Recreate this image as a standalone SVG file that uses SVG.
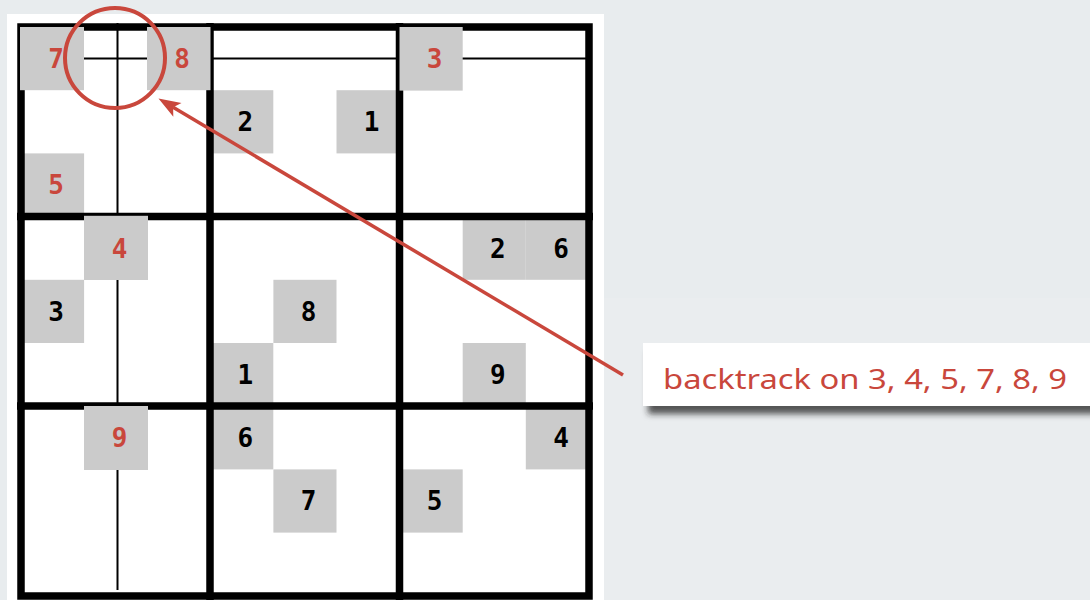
<svg xmlns="http://www.w3.org/2000/svg" width="1090" height="600" viewBox="0 0 1090 600">
<defs>
<style>
.cell{fill:#cbcbcb}
.dk{font-family:"DejaVu Sans Mono","Liberation Mono",monospace;font-weight:bold;font-size:26px;fill:#000;text-anchor:middle}
.rd{font-family:"DejaVu Sans Mono","Liberation Mono",monospace;font-weight:bold;font-size:26px;fill:#c9473c;text-anchor:middle}
.thick{stroke:#000;stroke-width:7.5;fill:none}
.thin{stroke:#000;stroke-width:2;fill:none}
.red{stroke:#c9473c;fill:none}
.lbl{font-family:"Noto Sans","Open Sans",sans-serif;font-size:27px;fill:#c9473c}
</style>
<marker id="ah" markerUnits="userSpaceOnUse" viewBox="-24 -10 26 20" markerWidth="26" markerHeight="20" refX="-17" refY="0" orient="auto">
<path d="M0,0 L-22,-8 L-17,0 L-22,8 Z" fill="#c9473c"/>
</marker>
<filter id="sh" x="-10%" y="-30%" width="130%" height="180%">
<feDropShadow dx="5" dy="8" stdDeviation="3" flood-color="#222" flood-opacity="0.75"/>
</filter>
</defs>
<rect x="0" y="0" width="1090" height="600" fill="#e8ecee"/>
<rect x="604" y="298" width="486" height="302" fill="#eaedef"/>
<rect x="7" y="14" width="597" height="586" fill="#fff"/>

<g id="cells-given">
<g id="c13"><rect class="cell" x="210.2" y="90.2" width="63.1" height="63.2"/><text class="dk" x="245.3" y="131">2</text></g>
<g id="c15"><rect class="cell" x="336.5" y="90.2" width="63.1" height="63.2"/><text class="dk" x="371.5" y="131">1</text></g>
<g id="c20"><rect class="cell" x="21" y="153.4" width="63.1" height="63.2"/><text class="rd" x="56" y="194">5</text></g>
<g id="c37"><rect class="cell" x="462.7" y="216.6" width="63.1" height="63.2"/><text class="dk" x="497.8" y="257.5">2</text></g>
<g id="c38"><rect class="cell" x="525.8" y="216.6" width="63.1" height="63.2"/><text class="dk" x="561" y="257.5">6</text></g>
<g id="c40"><rect class="cell" x="21" y="279.8" width="63.1" height="63.2"/><text class="dk" x="56" y="320.5">3</text></g>
<g id="c44"><rect class="cell" x="273.4" y="279.8" width="63.1" height="63.2"/><text class="dk" x="308.5" y="320.5">8</text></g>
<g id="c53"><rect class="cell" x="210.2" y="343" width="63.1" height="63.2"/><text class="dk" x="245.3" y="384">1</text></g>
<g id="c57"><rect class="cell" x="462.7" y="343" width="63.1" height="63.2"/><text class="dk" x="497.8" y="384">9</text></g>
<g id="c63"><rect class="cell" x="210.2" y="406.2" width="63.1" height="63.2"/><text class="dk" x="245.3" y="447">6</text></g>
<g id="c68"><rect class="cell" x="525.8" y="406.2" width="63.1" height="63.2"/><text class="dk" x="561" y="447">4</text></g>
<g id="c74"><rect class="cell" x="273.4" y="469.4" width="63.1" height="63.2"/><text class="dk" x="308.5" y="510">7</text></g>
<g id="c76"><rect class="cell" x="399.6" y="469.4" width="63.1" height="63.2"/><text class="dk" x="434.7" y="510">5</text></g>
</g>

<g id="grid">
<line class="thin" x1="117.5" y1="23" x2="117.5" y2="590"/>
<line class="thin" x1="21" y1="58.5" x2="589" y2="58.5"/>
<line class="thick" x1="210" y1="23" x2="210" y2="600"/>
<line class="thick" x1="399.5" y1="23" x2="399.5" y2="600"/>
<line class="thick" x1="17" y1="216.5" x2="593" y2="216.5"/>
<line class="thick" x1="17" y1="406" x2="593" y2="406"/>
<rect class="thick" x="21" y="27" width="568" height="569"/>
</g>

<g id="cells-tried">
<g id="c00"><rect class="cell" x="20" y="27" width="64" height="63.2"/><text class="rd" x="56" y="67.5">7</text></g>
<g id="c02"><rect class="cell" x="147" y="27" width="63.5" height="63.2"/><text class="rd" x="182" y="67.5">8</text></g>
<g id="c06"><rect class="cell" x="399.5" y="27" width="63.2" height="63.6"/><text class="rd" x="434.7" y="67.5">3</text></g>
<g id="c31"><rect class="cell" x="84" y="215.8" width="64" height="64.2"/><text class="rd" x="119.5" y="257.5">4</text></g>
<g id="c61"><rect class="cell" x="84" y="406" width="64" height="64"/><text class="rd" x="119.5" y="447">9</text></g>
</g>

<g id="connectors">
<circle class="red" cx="115" cy="58" r="50" stroke-width="4"/>
<line class="red" x1="623" y1="375" x2="173.1" y2="107.2" stroke-width="3.5" marker-end="url(#ah)"/>
</g>

<g id="label">
<rect x="643" y="343" width="460" height="63" fill="#fff" filter="url(#sh)"/>
<text class="lbl" x="663" y="389" textLength="404" lengthAdjust="spacingAndGlyphs">backtrack on 3, 4, 5, 7, 8, 9</text>
</g>
</svg>
